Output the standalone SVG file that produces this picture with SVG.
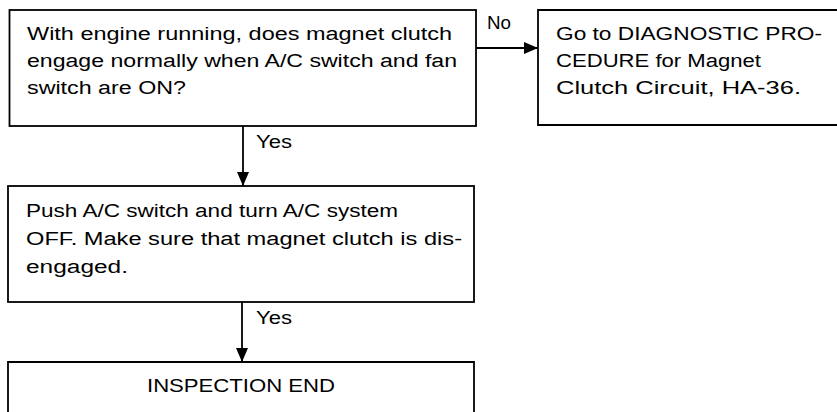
<svg xmlns="http://www.w3.org/2000/svg" width="837" height="412" viewBox="0 0 837 412">
<style>
.box{fill:none;stroke:#000;stroke-width:1.8}
.t{font-family:"Liberation Sans",Arial,sans-serif;font-size:18px;fill:#000}
.c{fill:none;stroke:#000;stroke-width:1.8}
</style>
<defs>
<marker id="ah" markerWidth="14" markerHeight="12" refX="14" refY="6" orient="auto" markerUnits="userSpaceOnUse">
<path d="M0,0 L14,6 L0,12 Z" fill="#000"/>
</marker>
</defs>
<rect width="837" height="412" fill="#fff"/>
<g id="n1">
<rect class="box" x="9.5" y="10" width="466.5" height="116"/>
<text class="t" x="27" y="40" textLength="425" lengthAdjust="spacingAndGlyphs">With engine running, does magnet clutch</text>
<text class="t" x="27" y="67" textLength="430" lengthAdjust="spacingAndGlyphs">engage normally when A/C switch and fan</text>
<text class="t" x="27" y="94" textLength="159" lengthAdjust="spacingAndGlyphs">switch are ON?</text>
</g>
<g id="n2">
<path class="box" d="M837,10 H538 V125 H837"/>
<text class="t" x="556" y="40" textLength="266" lengthAdjust="spacingAndGlyphs">Go to DIAGNOSTIC PRO-</text>
<text class="t" x="556" y="67" textLength="205" lengthAdjust="spacingAndGlyphs">CEDURE for Magnet</text>
<text class="t" x="556" y="94" textLength="245" lengthAdjust="spacingAndGlyphs">Clutch Circuit, HA-36.</text>
</g>
<g id="n3">
<rect class="box" x="8" y="186" width="466" height="116"/>
<text class="t" x="26" y="217" textLength="372" lengthAdjust="spacingAndGlyphs">Push A/C switch and turn A/C system</text>
<text class="t" x="26" y="245" textLength="436" lengthAdjust="spacingAndGlyphs">OFF. Make sure that magnet clutch is dis-</text>
<text class="t" x="26" y="273" textLength="102" lengthAdjust="spacingAndGlyphs">engaged.</text>
</g>
<g id="n4">
<path class="box" d="M8,413 V362 H474 V413"/>
<text class="t" x="241" y="392" text-anchor="middle" textLength="188" lengthAdjust="spacingAndGlyphs">INSPECTION END</text>
</g>
<g id="connectors">
<line class="c" x1="476" y1="48" x2="538" y2="48" marker-end="url(#ah)"/>
<line class="c" x1="243" y1="126" x2="243" y2="186" marker-end="url(#ah)"/>
<line class="c" x1="242" y1="302" x2="242" y2="362" marker-end="url(#ah)"/>
<text class="t" x="487" y="29" textLength="24" lengthAdjust="spacingAndGlyphs">No</text>
<text class="t" x="256" y="148" textLength="36" lengthAdjust="spacingAndGlyphs">Yes</text>
<text class="t" x="256" y="324" textLength="36" lengthAdjust="spacingAndGlyphs">Yes</text>
</g>
</svg>
